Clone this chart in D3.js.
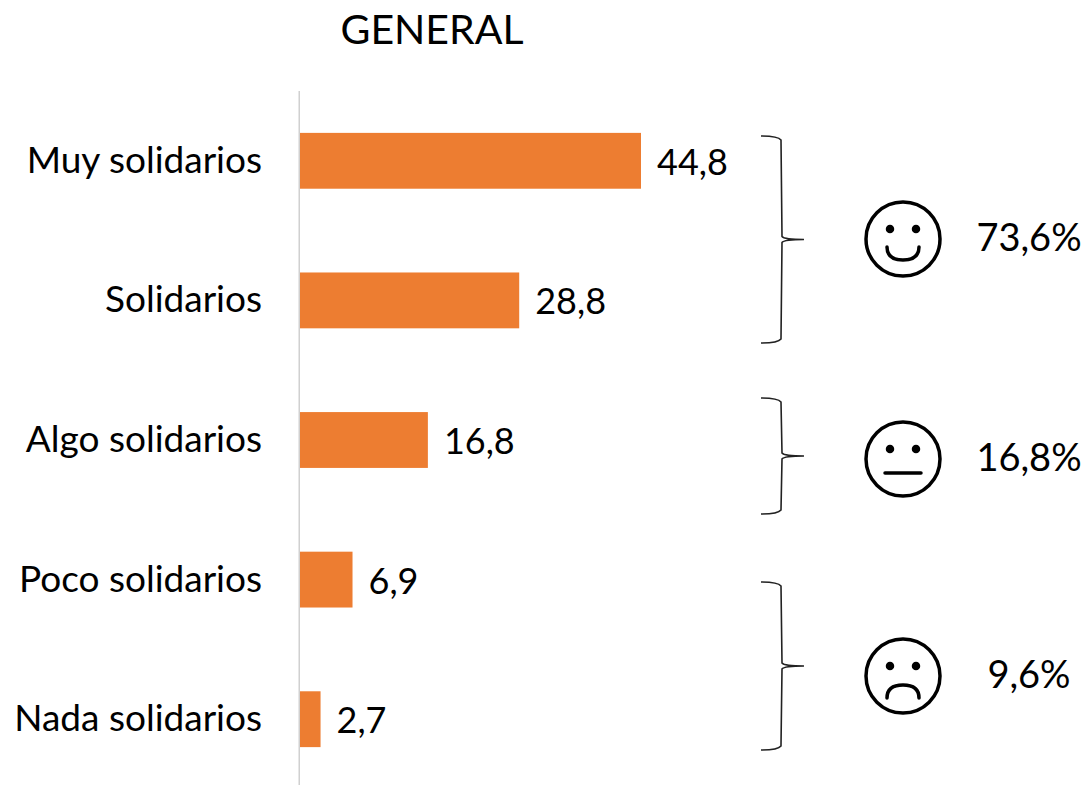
<!DOCTYPE html>
<html><head><meta charset="utf-8">
<script src="https://cdn.jsdelivr.net/npm/d3@7"></script>
<style>html,body{margin:0;background:#fff}svg{display:block}text{font-family:Lato,"Open Sans",sans-serif;fill:#000}</style>
</head><body><svg id="c" width="1089" height="785"></svg>
<script>
const categories=["Muy solidarios","Solidarios","Algo solidarios","Poco solidarios","Nada solidarios"];
const values=[44.8,28.8,16.8,6.9,2.7];
const valueLabels=["44,8","28,8","16,8","6,9","2,7"];
const groupLabels=["73,6%","16,8%","9,6%"];
const groupMoods=["happy","neutral","sad"];
const groupSpans=[[136,343],[398,514],[582,750]];
const faceY=[239,459,676];
const svg=d3.select("#c");
const x=d3.scaleLinear().domain([0,44.8]).range([300,641]);
const y=d3.scaleBand().domain(categories).range([91,789]).paddingInner(0.6).paddingOuter(0.3);
svg.append("text").attr("x",432).attr("y",44).attr("text-anchor","middle").attr("font-size",41).text("GENERAL");
svg.selectAll("rect.b").data(values).join("rect").attr("class","b")
 .attr("x",x(0)).attr("y",(d,i)=>y(categories[i])).attr("width",d=>x(d)-x(0)).attr("height",y.bandwidth()).attr("fill","#ED7D31");
svg.append("line").attr("x1",299.25).attr("x2",299.25).attr("y1",91).attr("y2",785).attr("stroke","#d0d0d0").attr("stroke-width",1.5);
svg.selectAll("text.c").data(categories).join("text").attr("class","c")
 .attr("x",262).attr("y",d=>y(d)+y.bandwidth()/2+12).attr("text-anchor","end").attr("font-size",37).text(d=>d);
svg.selectAll("text.v").data(values).join("text").attr("class","v")
 .attr("x",d=>x(d)+16).attr("y",(d,i)=>y(categories[i])+y.bandwidth()/2+14).attr("font-size",36).text((d,i)=>valueLabels[i]);
groupSpans.forEach((s,i)=>{
 const [a,b]=s,m=(a+b)/2;
 svg.append("path").attr("fill","none").attr("stroke","#222").attr("stroke-width",1.6)
  .attr("d",`M761,${a} Q778,${a} 781,${a+4} L782,${m-3} Q784,${m} 804,${m} Q784,${m} 782,${m+3} L781,${b-4} Q778,${b} 761,${b}`);
 const cx=903,cy=faceY[i],g=svg.append("g").attr("fill","none").attr("stroke","#000").attr("stroke-width",3.5);
 g.append("circle").attr("cx",cx).attr("cy",cy).attr("r",37);
 g.append("circle").attr("cx",cx-13).attr("cy",cy-10).attr("r",2.5).attr("fill","#000");
 g.append("circle").attr("cx",cx+13).attr("cy",cy-10).attr("r",2.5).attr("fill","#000");
 if(groupMoods[i]==="happy")g.append("path").attr("stroke-linecap","round").attr("d",`M${cx-16},${cy+8} C${cx-16},${cy+17} ${cx-10},${cy+21} ${cx},${cy+21} C${cx+10},${cy+21} ${cx+16},${cy+17} ${cx+16},${cy+8}`);
 if(groupMoods[i]==="neutral")g.append("path").attr("stroke-linecap","round").attr("d",`M${cx-18},${cy+14} H${cx+18}`);
 if(groupMoods[i]==="sad")g.append("path").attr("stroke-linecap","round").attr("d",`M${cx-16},${cy+22} C${cx-16},${cy+13} ${cx-10},${cy+9} ${cx},${cy+9} C${cx+10},${cy+9} ${cx+16},${cy+13} ${cx+16},${cy+22}`);
 svg.append("text").attr("x",1029).attr("y",cy+12).attr("text-anchor","middle").attr("font-size",38).text(groupLabels[i]);
});
</script></body></html>
